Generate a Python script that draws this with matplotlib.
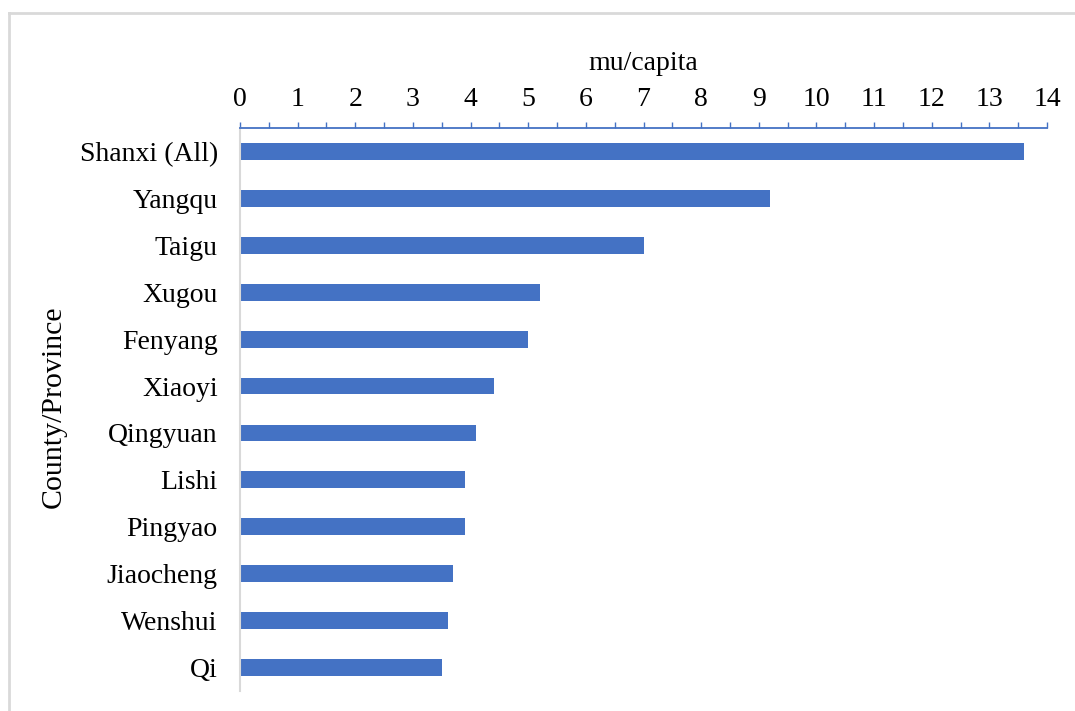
import numpy as np
import matplotlib
matplotlib.use("Agg")
from matplotlib import pyplot as plt
from matplotlib.lines import Line2D
from matplotlib.ticker import MultipleLocator

counties = ["Shanxi (All)", "Yangqu", "Taigu", "Xugou", "Fenyang", "Xiaoyi",
            "Qingyuan", "Lishi", "Pingyao", "Jiaocheng", "Wenshui", "Qi"]
mu_per_capita = [13.6, 9.2, 7.0, 5.2, 5.0, 4.4, 4.1, 3.9, 3.9, 3.7, 3.6, 3.5]

BLUE = "#4472C4"
GREY = "#D9D9D9"
FONT_SIZE = 20

plt.rcParams["font.family"] = ["Liberation Serif", "DejaVu Serif"]

fig = plt.figure(figsize=(10.75, 7.11), dpi=100)
ax = fig.add_axes([240 / 1075, 1 - 691 / 711, (1047 - 240) / 1075, (691 - 128) / 711])

y = np.arange(len(counties))
ax.barh(y, mu_per_capita, height=0.36, color=BLUE)

ax.set_xlim(0, 14)
ax.set_ylim(len(counties) - 0.5, -0.5)

ax.xaxis.tick_top()
ax.xaxis.set_label_position("top")
ax.xaxis.set_major_locator(MultipleLocator(1))
ax.xaxis.set_minor_locator(MultipleLocator(0.5))
ax.tick_params(axis="x", which="both", direction="out", length=4.5, width=1.0,
               color=BLUE, labelsize=FONT_SIZE, pad=7)
ax.set_xlabel("mu/capita", fontsize=FONT_SIZE, labelpad=12)

ax.set_yticks(y)
ax.set_yticklabels(counties)
ax.tick_params(axis="y", length=0, labelsize=FONT_SIZE, pad=16)
ax.set_ylabel("County/Province", fontsize=21.5)
ax.yaxis.set_label_coords(-0.215, 0.505)

for side in ["right", "bottom"]:
    ax.spines[side].set_visible(False)
ax.spines["top"].set_color(BLUE)
ax.spines["top"].set_linewidth(1.3)
ax.spines["left"].set_color(GREY)
ax.spines["left"].set_linewidth(1.5)

# chart frame (top and left edges visible in the source)
fig.add_artist(Line2D([9 / 1075, 1.0], [1 - 13 / 711] * 2, transform=fig.transFigure,
                      color=GREY, linewidth=2))
fig.add_artist(Line2D([9 / 1075] * 2, [0.0, 1 - 13 / 711], transform=fig.transFigure,
                      color=GREY, linewidth=2))

fig.savefig("out.png", dpi=100)
